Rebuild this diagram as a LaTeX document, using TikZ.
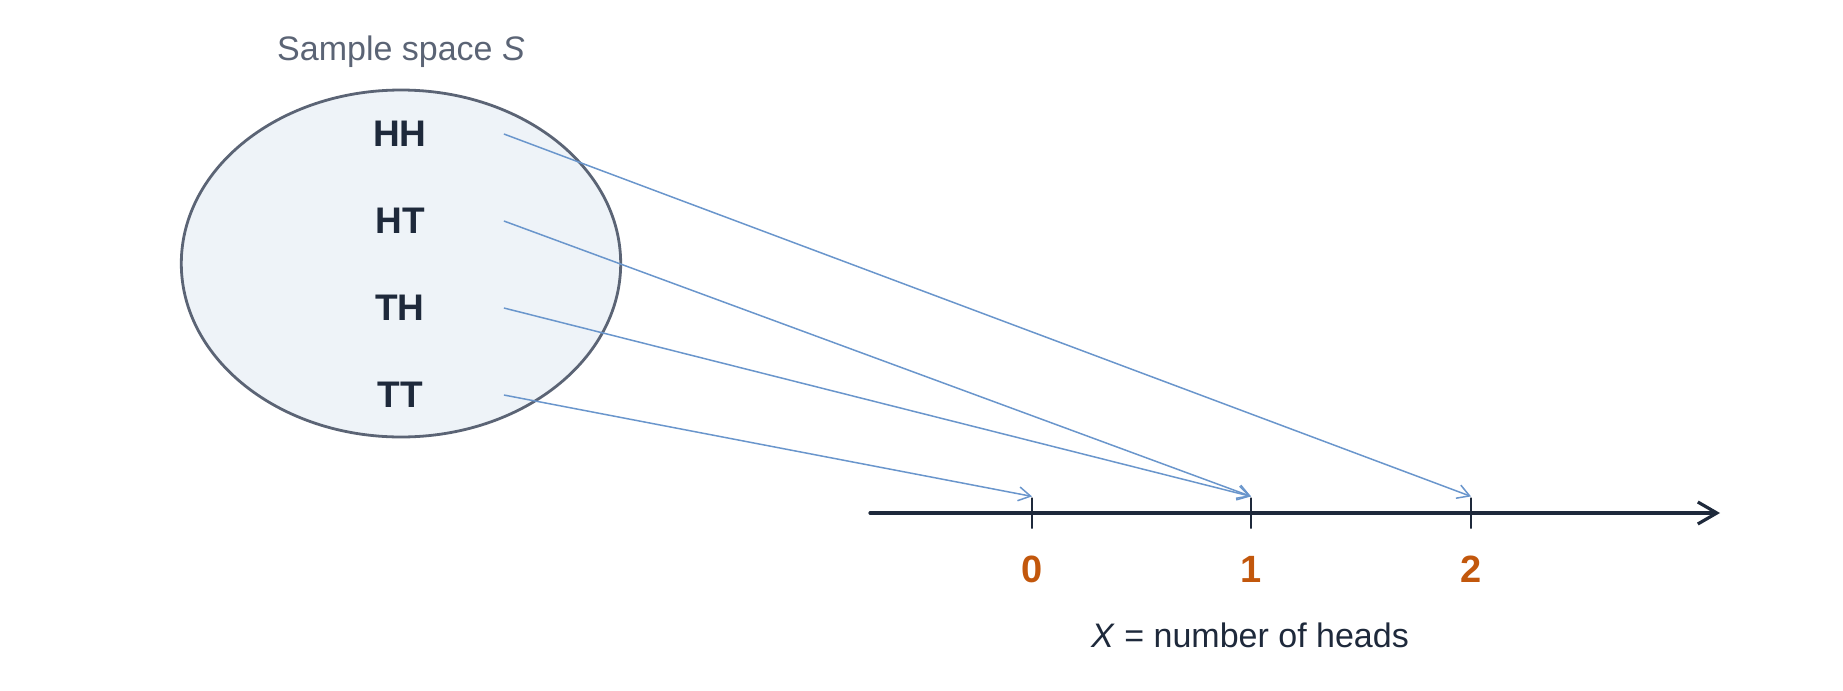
\documentclass[tikz,border=0pt]{standalone}
\usepackage{fontspec}
\setmainfont{Liberation Sans}
\usetikzlibrary{arrows.meta}
\definecolor{spaceline}{HTML}{5B6475}
\definecolor{spacefill}{HTML}{EEF3F8}
\definecolor{ink}{HTML}{1E293B}
\definecolor{mapblue}{HTML}{6A96CC}
\definecolor{valorange}{HTML}{C2570C}
\tikzset{>={Straight Barb[length=9.5pt,width=11pt]}}
\tikzset{
  outcome/.style={font=\fontsize{18.5}{22}\selectfont\bfseries, text=ink, minimum width=103.5pt, inner sep=0pt},
  maparrow/.style={draw=mapblue, line width=0.75pt, -{Straight Barb[length=6pt,width=7pt]}},
  tickmark/.style={draw=ink, line width=1.1pt, minimum width=0pt, minimum height=15.5pt, inner sep=0pt},
  value/.style={font=\fontsize{19}{23}\selectfont\bfseries, text=valorange},
  caption/.style={font=\fontsize{17}{20}\selectfont}
}

\begin{document}
\begin{tikzpicture}[x=0.5pt, y=-0.5pt]
\useasboundingbox (0,0) rectangle (1843,691);

% sample space
\draw[draw=spaceline, fill=spacefill, line width=1.4pt] (401,263.5) ellipse [x radius=219.7, y radius=173.5];
\node[caption, text=spaceline] (slabel) at (401,52) {Sample space \textit{S}};

	\node[outcome] (hh) at (400,134) {HH};
	\node[outcome] (ht) at (400,221) {HT};
	\node[outcome] (th) at (400,308) {TH};
	\node[outcome] (tt) at (400,395) {TT};

% number line
\coordinate (axl) at (870,513);
\coordinate (axr) at (1720,513);
\draw[draw=ink, line width=1.6pt, line cap=round][->](axl)--(axr);

	\node[tickmark] (t0) at (1032,513) {};
	\node[tickmark] (t1) at (1251,513) {};
	\node[tickmark] (t2) at (1471,513) {};

	\node[value] (v0) at (1032,569) {0};
	\node[value] (v1) at (1251,569) {1};
	\node[value] (v2) at (1471,569) {2};

\node[caption, text=ink] (xlabel) at (1250,635) {\textit{X} = number of heads};

% the mapping X
\draw[maparrow] (hh.east) -- (t2.north);
\draw[maparrow] (ht.east) -- (t1.north);
\draw[maparrow] (th.east) -- (t1.north);
\draw[maparrow] (tt.east) -- (t0.north);
\end{tikzpicture}
\end{document}
